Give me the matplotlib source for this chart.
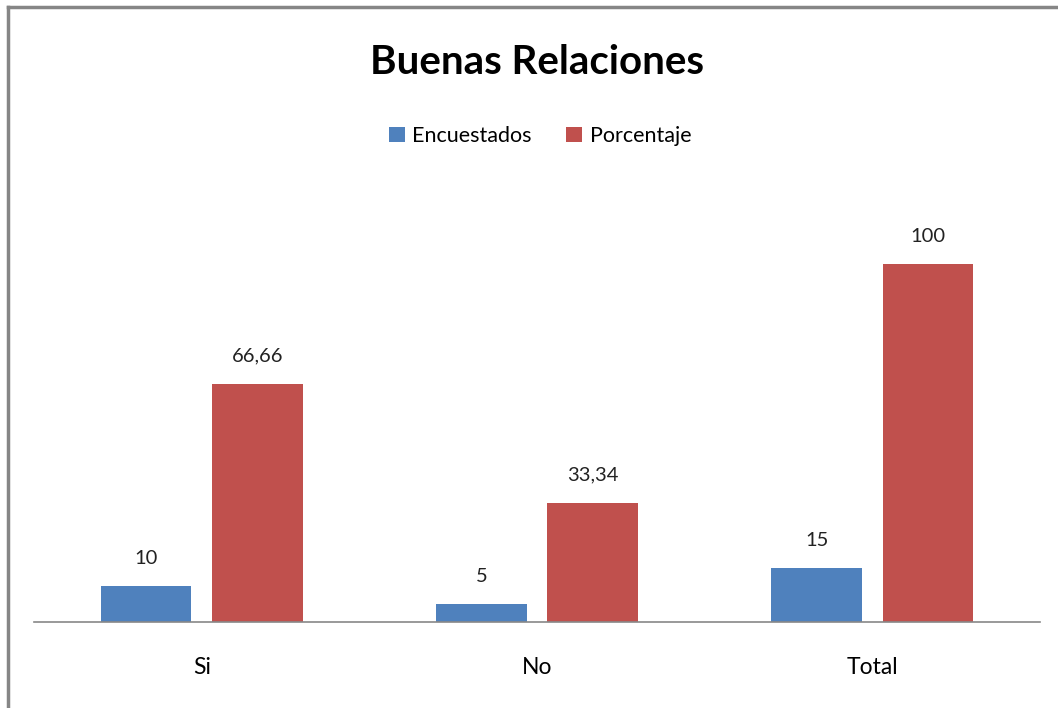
import numpy as np
import matplotlib.pyplot as plt
from matplotlib.lines import Line2D

# data
categories = ['Si', 'No', 'Total']
encuestados = [10, 5, 15]
porcentaje = [66.66, 33.34, 100]
series_names = ['Encuestados', 'Porcentaje']

blue = '#4f81bd'
red = '#c0504d'

plt.rcParams['font.family'] = ['Lato', 'DejaVu Sans']

fig = plt.figure(figsize=(10.58, 7.08), dpi=100)
ax = fig.add_axes([34 / 1058, 86 / 708, 1006 / 1058, 429 / 708])

x = np.arange(len(categories))
w = 0.27
off = 0.166
b1 = ax.bar(x - off, encuestados, w, color=blue, label=series_names[0])
b2 = ax.bar(x + off, porcentaje, w, color=red, label=series_names[1])


def fmt(v):
    s = ('%.2f' % v).rstrip('0').rstrip('.')
    return s.replace('.', ',')


for bars, vals in ((b1, encuestados), (b2, porcentaje)):
    for rect, v in zip(bars, vals):
        ax.annotate(fmt(v), (rect.get_x() + rect.get_width() / 2, v),
                    xytext=(0, 14), textcoords='offset points',
                    ha='center', va='bottom', fontsize=14.5, color='#222222')

ax.set_xlim(-0.5, 2.5)
ax.set_ylim(0, 120)
ax.set_xticks(x)
ax.set_xticklabels(categories, fontsize=16.5)
ax.tick_params(axis='x', length=0, pad=25)
ax.set_yticks([])
for s in ('top', 'right', 'left'):
    ax.spines[s].set_visible(False)
ax.spines['bottom'].set_color('#888888')
ax.spines['bottom'].set_linewidth(1.2)

fig.text(537 / 1058, 1 - 62 / 708, 'Buenas Relaciones', ha='center', va='center',
         fontsize=29, fontweight='bold')
fig.legend(handles=[b1, b2], loc='center', bbox_to_anchor=(540 / 1058, 1 - 136 / 708),
           ncol=2, frameon=False, fontsize=15.5, handlelength=0.75, handleheight=0.75,
           handletextpad=0.35, columnspacing=1.6)

# outer frame (only top and left edges visible)
fig.add_artist(Line2D([8 / 1058, 1], [1 - 7 / 708, 1 - 7 / 708], transform=fig.transFigure,
                      color='#868686', lw=2.5))
fig.add_artist(Line2D([8 / 1058, 8 / 1058], [0, 1 - 7 / 708], transform=fig.transFigure,
                      color='#868686', lw=2.5))

fig.savefig('out.png', dpi=100)
